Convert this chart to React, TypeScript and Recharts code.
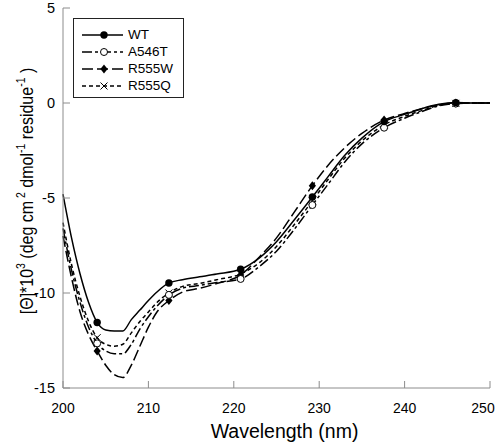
import { Legend, Line, LineChart, XAxis, YAxis } from "recharts";

// wavelength grid (nm); markers sit on every ~8.4 nm
const WAVELENGTHS = [
  200, 201, 202, 203, 204, 205, 206, 207, 208, 209, 210, 211, 212.4, 214, 216, 218, 220.8, 223, 225,
  227, 229.2, 231, 233, 235, 237.6, 240, 242, 244, 246, 248, 250,
];
const MARKER_WL = [204, 212.4, 220.8, 229.2, 237.6, 246];

const WT = [
  -4.8, -7.1, -9.0, -10.5, -11.55, -11.95, -12.0, -12.0, -11.4, -10.9, -10.4, -9.95, -9.47, -9.3, -9.15,
  -9.0, -8.75, -8.15, -7.3, -6.2, -4.95, -3.9, -2.75, -1.85, -0.98, -0.6, -0.3, -0.07, 0.02, 0, 0,
];
const A546T = [
  -6.6, -8.8, -10.5, -11.8, -12.65, -13.05, -13.2, -13.2, -12.7, -11.9, -11.25, -10.7, -10.1, -9.75, -9.6,
  -9.45, -9.26, -8.6, -7.8, -6.7, -5.37, -4.3, -3.1, -2.15, -1.3, -0.8, -0.45, -0.15, -0.03, 0, 0,
];
const R555W = [
  -7.0, -9.2, -11.0, -12.2, -13.05, -13.8, -14.3, -14.45, -13.8, -12.8, -11.8, -11.0, -10.4, -9.95, -9.75,
  -9.5, -9.05, -8.1, -7.1, -5.8, -4.35, -3.3, -2.35, -1.6, -0.9, -0.55, -0.3, -0.1, 0, 0, 0,
];
const R555Q = [
  -6.3, -8.5, -10.2, -11.5, -12.35, -12.7, -12.8, -12.7, -12.1, -11.5, -11.0, -10.5, -10.0, -9.65, -9.5,
  -9.3, -9.0, -8.4, -7.55, -6.45, -5.15, -4.05, -2.9, -2.0, -1.15, -0.7, -0.4, -0.12, -0.02, 0, 0,
];

const X_TICKS = [200, 210, 220, 230, 240, 250];
const Y_TICKS = [5, 0, -5, -10, -15];

const FONT = "'Liberation Sans', Arial, sans-serif";
const AXIS = "#8c8c8c";
const INK = "#000";

type MarkerKind = "filled" | "open" | "diamond" | "cross";

const SERIES: { key: string; name: string; dash?: string; marker: MarkerKind }[] = [
  { key: "r555q", name: "R555Q", dash: "4 3", marker: "cross" },
  { key: "r555w", name: "R555W", dash: "11 4", marker: "diamond" },
  { key: "a546t", name: "A546T", dash: "10 3 3 3", marker: "open" },
  { key: "wt", name: "WT", marker: "filled" },
];
const LEGEND_ORDER = ["wt", "a546t", "r555w", "r555q"];

const data = WAVELENGTHS.map((wl, i) => ({
  wl,
  wt: WT[i],
  a546t: A546T[i],
  r555w: R555W[i],
  r555q: R555Q[i],
}));

function Marker({ kind, cx, cy }: { kind: MarkerKind; cx: number; cy: number }) {
  if (kind === "filled") return <circle cx={cx} cy={cy} r={3.7} fill={INK} />;
  if (kind === "open") return <circle cx={cx} cy={cy} r={3.5} fill="#fff" stroke={INK} strokeWidth={1} />;
  if (kind === "diamond")
    return <path d={`M${cx},${cy - 4.5}L${cx + 3.6},${cy}L${cx},${cy + 4.5}L${cx - 3.6},${cy}Z`} fill={INK} />;
  return (
    <g stroke={INK} strokeWidth={1}>
      <line x1={cx - 3.5} y1={cy - 3.5} x2={cx + 3.5} y2={cy + 3.5} />
      <line x1={cx - 3.5} y1={cy + 3.5} x2={cx + 3.5} y2={cy - 3.5} />
    </g>
  );
}

const makeDot = (kind: MarkerKind) => (props: any) => {
  const { cx, cy, payload, index } = props;
  if (!MARKER_WL.includes(payload.wl)) return <g key={index} />;
  return (
    <g key={index}>
      <Marker kind={kind} cx={cx} cy={cy} />
    </g>
  );
};

// last x label is nudged left so it stays inside the picture, as in the source
function XTick(props: any) {
  const { x, y, payload } = props;
  const last = payload.value === X_TICKS[X_TICKS.length - 1];
  return (
    <text
      x={x}
      y={y}
      dx={last ? -7 : 0}
      dy="0.71em"
      textAnchor="middle"
      fontSize={14}
      fill={INK}
      fontFamily={FONT}
    >
      {payload.value}
    </text>
  );
}

function LegendBox() {
  return (
    <div
      style={{
        width: 109,
        height: 71,
        paddingTop: 7,
        border: "1px solid #222",
        background: "#fff",
        fontFamily: FONT,
        fontSize: 13.5,
        color: INK,
      }}
    >
      {LEGEND_ORDER.map((k) => {
        const s = SERIES.find((x) => x.key === k)!;
        return (
          <div key={k} style={{ display: "flex", alignItems: "center", height: 17 }}>
            <svg width={50} height={14} style={{ display: "block" }}>
              <line x1={8} y1={7} x2={49} y2={7} stroke={INK} strokeWidth={1.3} strokeDasharray={s.dash} />
              <Marker kind={s.marker} cx={30} cy={7} />
            </svg>
            <span style={{ marginLeft: 4, lineHeight: "17px" }}>{s.name}</span>
          </div>
        );
      })}
    </div>
  );
}

function YTitle() {
  // baseline sits at x=33, text centred a little above the plot middle
  const x = 33;
  const cy = 191;
  return (
    <text
      x={0}
      y={0}
      transform={`translate(${x}, ${cy}) rotate(-90) scale(1, 1.2)`}
      textAnchor="middle"
      fontSize={16}
      fill={INK}
      fontFamily={FONT}
    >
      [Θ]*10
      <tspan fontSize={10.5} dy={-6.5}>3</tspan>
      <tspan dy={6.5}> (deg cm</tspan>
      <tspan fontSize={10.5} dy={-6.5}> 2</tspan>
      <tspan dy={6.5}> dmol</tspan>
      <tspan fontSize={10.5} dy={-6.5}>-1</tspan>
      <tspan dy={6.5}> residue</tspan>
      <tspan fontSize={10.5} dy={-6.5}>-1</tspan>
      <tspan dy={6.5}> )</tspan>
    </text>
  );
}

export default function App() {
  return (
    <div style={{ width: 496, height: 444, background: "#fff", fontFamily: FONT }}>
      <style>{"body{margin:0}"}</style>
      <LineChart width={496} height={444} data={data} margin={{ top: 8, right: 6, bottom: 0, left: 0 }}>
        <XAxis
          xAxisId="b"
          dataKey="wl"
          type="number"
          domain={[200, 250]}
          ticks={X_TICKS}
          interval={0}
          height={56}
          tickSize={-7}
          tickMargin={22}
          stroke={AXIS}
          tick={<XTick />}
          label={{ value: "Wavelength (nm)", position: "insideBottom", offset: 6, dx: 8, fontSize: 19.5, fill: INK }}
        />
        <XAxis
          xAxisId="t"
          orientation="top"
          dataKey="wl"
          type="number"
          domain={[200, 250]}
          ticks={X_TICKS}
          interval={0}
          height={0}
          tickSize={-7}
          tick={false}
          stroke={AXIS}
        />
        <YAxis
          yAxisId="l"
          type="number"
          domain={[-15, 5]}
          ticks={Y_TICKS}
          interval={0}
          width={63}
          tickSize={-7}
          tickMargin={15}
          stroke={AXIS}
          tick={{ fill: INK, fontSize: 14.5, fontFamily: FONT }}
          label={<YTitle />}
        />
        <YAxis
          yAxisId="r"
          orientation="right"
          type="number"
          domain={[-15, 5]}
          ticks={Y_TICKS}
          interval={0}
          width={0}
          tickSize={-7}
          tick={false}
          stroke={AXIS}
        />
        <Legend
          layout="vertical"
          align="center"
          verticalAlign="middle"
          content={() => <LegendBox />}
          wrapperStyle={{ top: 18, left: 73, width: 111, height: 80 }}
        />
        {SERIES.map((s) => (
          <Line
            key={s.key}
            xAxisId="b"
            yAxisId="l"
            dataKey={s.key}
            name={s.name}
            type="monotone"
            stroke={INK}
            strokeWidth={1.5}
            strokeDasharray={s.dash}
            dot={makeDot(s.marker)}
            activeDot={false}
            isAnimationActive={false}
          />
        ))}
      </LineChart>
    </div>
  );
}
